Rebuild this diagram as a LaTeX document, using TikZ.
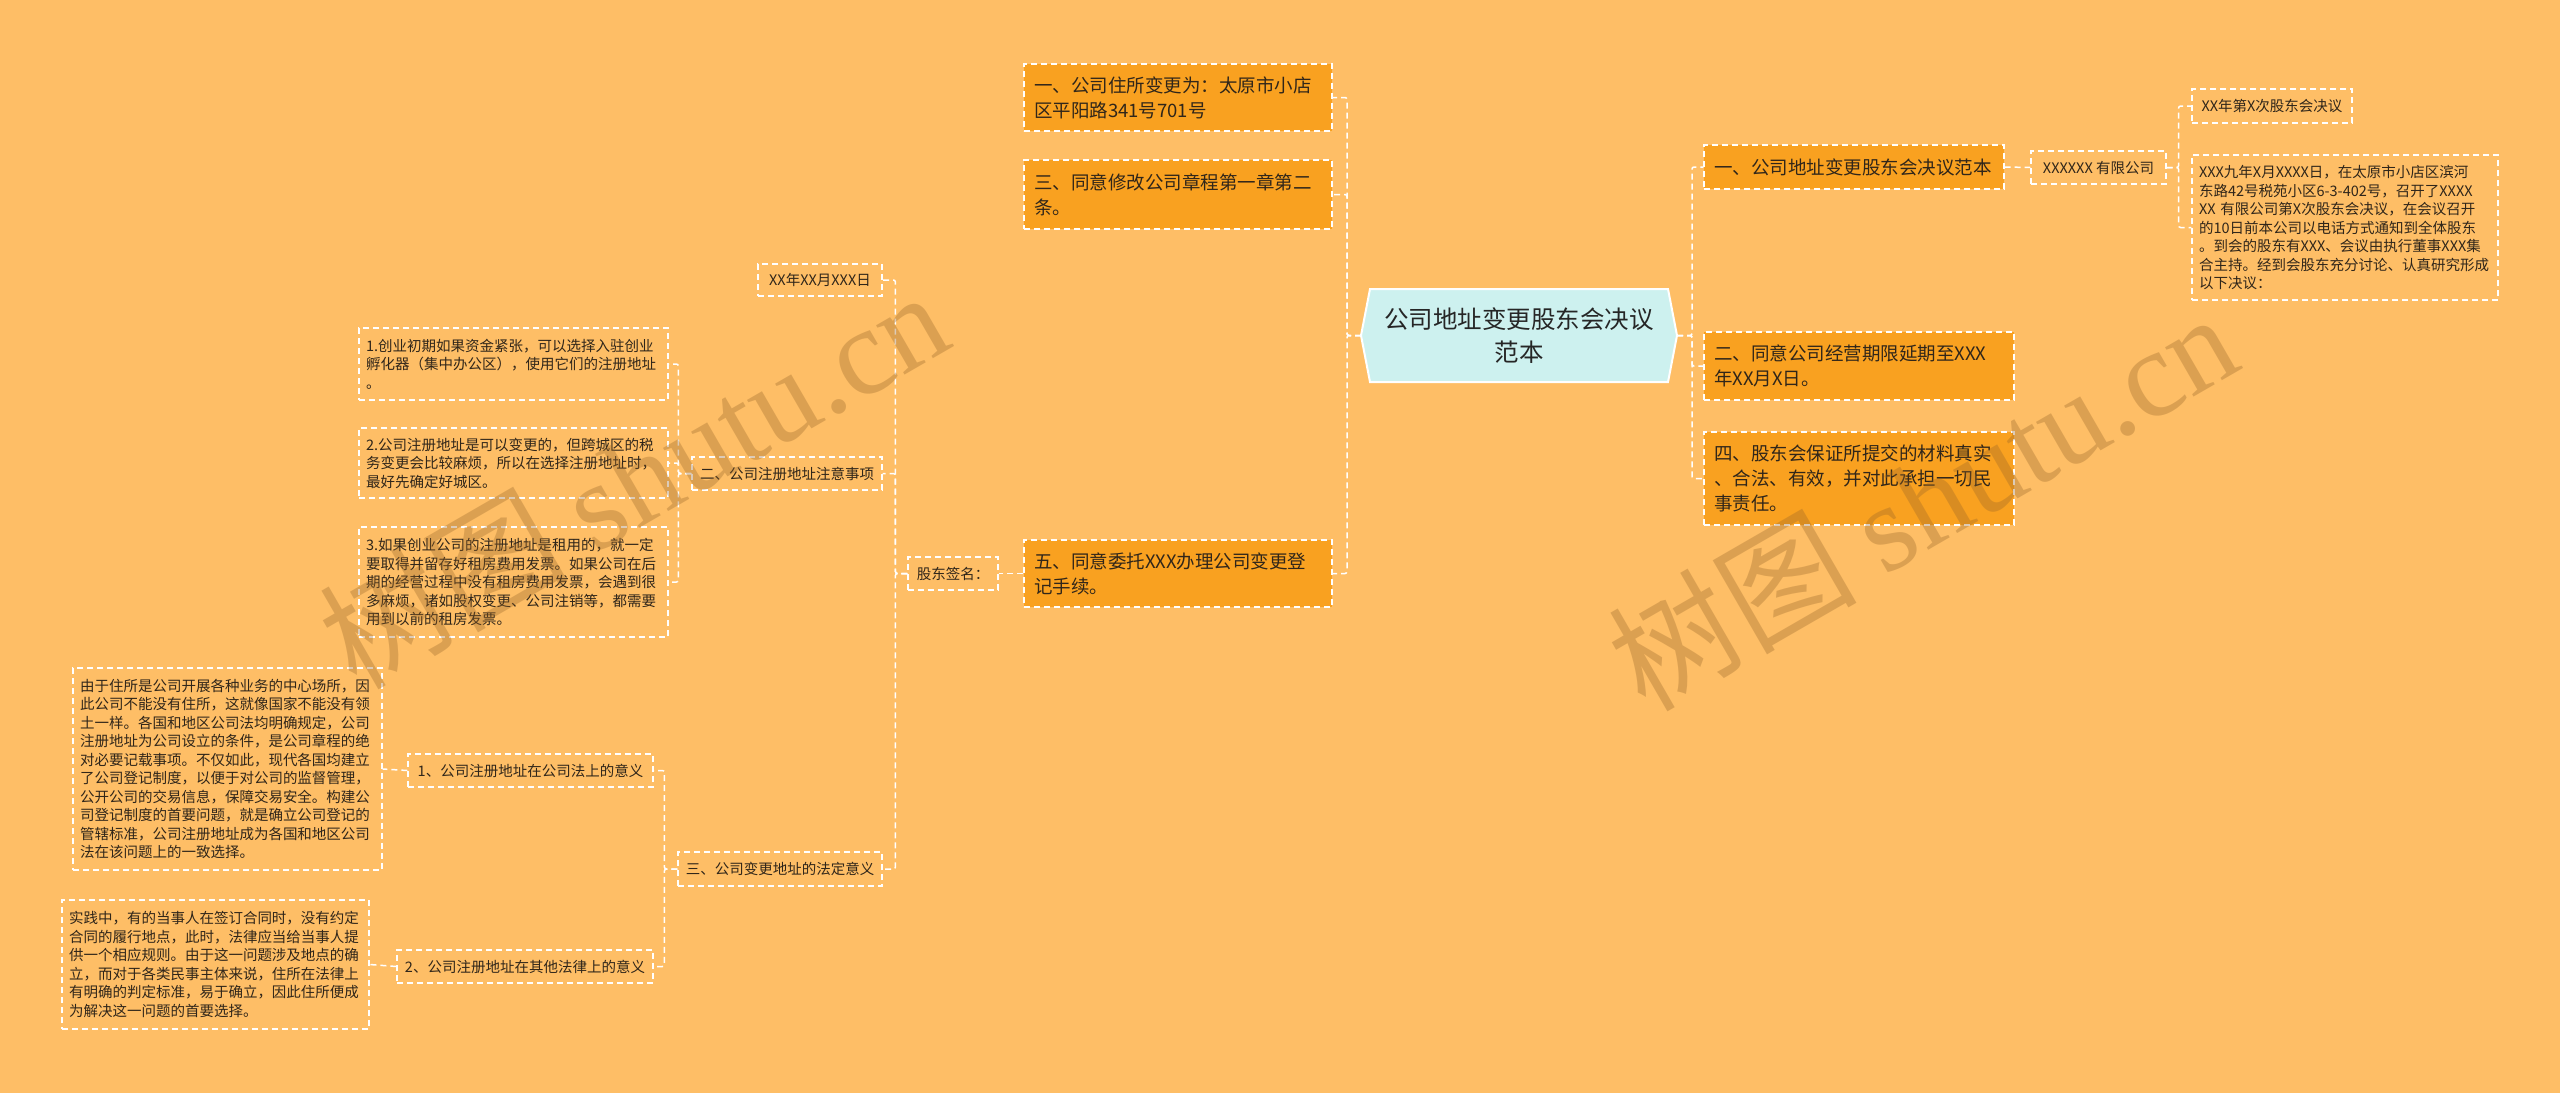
\documentclass[tikz,border=0pt]{standalone}
\usepackage{fontspec}
\setmainfont{Noto Sans CJK SC}
\newfontfamily\wmserif{Liberation Serif}
\newfontfamily\wmcjk{Noto Sans CJK SC}
\definecolor{bg}{RGB}{254,190,102}
\definecolor{orangebox}{RGB}{249,161,32}
\definecolor{cyanbox}{RGB}{205,241,239}
\definecolor{txt}{RGB}{48,38,26}
\definecolor{wm}{RGB}{150,100,40}
\begin{document}
\begin{tikzpicture}[x=1pt,y=-1pt,
  conn/.style={draw=white, line width=1.5pt, dash pattern=on 6pt off 4pt, rounded corners=2pt},
  obox/.style={fill=orangebox, draw=white, line width=1.2pt, dash pattern=on 6pt off 4pt,
    font=\fontsize{18.5}{25}\selectfont, text=txt, align=left, inner xsep=10pt, inner ysep=0pt},
  sbox/.style={draw=white, line width=1.2pt, dash pattern=on 6pt off 4pt,
    font=\fontsize{14.5}{18.5}\selectfont, text=txt, align=left, inner xsep=7pt, inner ysep=0pt},
  wmark/.style={rotate=30, text=wm, opacity=0.33, font=\fontsize{124}{124}\selectfont}
]
\fill[bg] (0,0) rectangle (2560,1093);
\useasboundingbox (0,0) rectangle (2560,1093);

% centre
\draw[fill=cyanbox, draw=white, line width=2pt]
  (1361,335.5) -- (1370,289) -- (1668,289) -- (1677,335.5) -- (1668,382) -- (1370,382) -- cycle;
\node[font=\fontsize{24.5}{33}\selectfont, text=black!85, align=center] (c) at (1519,335.5) {公司地址变更股东会决议\\范本};
\coordinate (cL) at (1361,335.5);
\coordinate (cR) at (1677,335.5);

% left orange
\node[obox, minimum width=308pt, minimum height=67pt, text width=288pt] (L1) at (1178,97.5) {一、公司住所变更为：太原市小店\\区平阳路341号701号};
\node[obox, minimum width=308pt, minimum height=69pt, text width=288pt] (L3) at (1178,194.5) {三、同意修改公司章程第一章第二\\条。};
\node[obox, minimum width=308pt, minimum height=67pt, text width=288pt] (L5) at (1178,573.5) {五、同意委托XXX办理公司变更登\\记手续。};

% right orange
\node[obox, minimum width=300pt, minimum height=44pt, text width=280pt] (R1) at (1854,167) {一、公司地址变更股东会决议范本};
\node[obox, minimum width=310pt, minimum height=68pt, text width=290pt] (R2) at (1859,366) {二、同意公司经营期限延期至XXX\\年XX月X日。};
\node[obox, minimum width=310pt, minimum height=93pt, text width=290pt] (R4) at (1859,478.5) {四、股东会保证所提交的材料真实\\、合法、有效，并对此承担一切民\\事责任。};

% right small
\node[sbox, minimum width=135pt, minimum height=33pt] (Rco) at (2098.5,167.5) {XXXXXX~有限公司};
\node[sbox, minimum width=160pt, minimum height=34pt] (Ra) at (2272,106) {XX年第X次股东会决议};
\node[sbox, minimum width=306pt, minimum height=145pt, text width=292pt] (Rb) at (2345,227.5) {XXX九年X月XXXX日，在太原市小店区滨河\\东路42号税苑小区6-3-402号，召开了XXXX\\XX~有限公司第X次股东会决议，在会议召开\\的10日前本公司以电话方式通知到全体股东\\。到会的股东有XXX、会议由执行董事XXX集\\合主持。经到会股东充分讨论、认真研究形成\\以下决议：};

% left small
\node[sbox, minimum width=90pt, minimum height=33pt] (sig) at (953,573.5) {股东签名：};
\node[sbox, minimum width=124pt, minimum height=32pt] (d) at (820,280) {XX年XX月XXX日};
\node[sbox, minimum width=190pt, minimum height=33pt] (n2) at (787,473.5) {二、公司注册地址注意事项};
\node[sbox, minimum width=204pt, minimum height=34pt] (n3) at (780,869) {三、公司变更地址的法定意义};

\node[sbox, minimum width=309pt, minimum height=72pt, text width=295pt] (t1) at (513.5,364) {1.创业初期如果资金紧张，可以选择入驻创业\\孵化器（集中办公区），使用它们的注册地址\\。};
\node[sbox, minimum width=309pt, minimum height=70pt, text width=295pt] (t2) at (513.5,463) {2.公司注册地址是可以变更的，但跨城区的税\\务变更会比较麻烦，所以在选择注册地址时，\\最好先确定好城区。};
\node[sbox, minimum width=309pt, minimum height=110pt, text width=295pt] (t3) at (513.5,582) {3.如果创业公司的注册地址是租用的，就一定\\要取得并留存好租房费用发票。如果公司在后\\期的经营过程中没有租房费用发票，会遇到很\\多麻烦，诸如股权变更、公司注销等，都需要\\用到以前的租房发票。};

\node[sbox, minimum width=245pt, minimum height=33pt] (m1) at (530.5,770.5) {1、公司注册地址在公司法上的意义};
\node[sbox, minimum width=256pt, minimum height=33pt] (m2) at (525,966.5) {2、公司注册地址在其他法律上的意义};

\node[sbox, minimum width=309pt, minimum height=202pt, text width=295pt] (p1) at (227.5,769) {由于住所是公司开展各种业务的中心场所，因\\此公司不能没有住所，这就像国家不能没有领\\土一样。各国和地区公司法均明确规定，公司\\注册地址为公司设立的条件，是公司章程的绝\\对必要记载事项。不仅如此，现代各国均建立\\了公司登记制度，以便于对公司的监督管理，\\公开公司的交易信息，保障交易安全。构建公\\司登记制度的首要问题，就是确立公司登记的\\管辖标准，公司注册地址成为各国和地区公司\\法在该问题上的一致选择。};
\node[sbox, minimum width=307pt, minimum height=129pt, text width=293pt] (p2) at (215.5,964.5) {实践中，有的当事人在签订合同时，没有约定\\合同的履行地点，此时，法律应当给当事人提\\供一个相应规则。由于这一问题涉及地点的确\\立，而对于各类民事主体来说，住所在法律上\\有明确的判定标准，易于确立，因此住所便成\\为解决这一问题的首要选择。};

% connectors
\draw[conn] (cL) -- ++(-14,0) |- (L1.east);
\draw[conn] (cL) -- ++(-14,0) |- (L3.east);
\draw[conn] (cL) -- ++(-14,0) |- (L5.east);
\draw[conn] (cR) -- ++(15,0) |- (R1.west);
\draw[conn] (cR) -- ++(15,0) |- (R2.west);
\draw[conn] (cR) -- ++(15,0) |- (R4.west);
\draw[conn] (R1.east) -- (Rco.west);
\draw[conn] (Rco.east) -- ++(12,0) |- (Ra.west);
\draw[conn] (Rco.east) -- ++(12,0) |- (Rb.west);
\draw[conn] (L5.west) -- (sig.east);
\draw[conn] (sig.west) -- ++(-12,0) |- (d.east);
\draw[conn] (sig.west) -- ++(-12,0) |- (n2.east);
\draw[conn] (sig.west) -- ++(-12,0) |- (n3.east);
\draw[conn] (n2.west) -- ++(-13,0) |- (t1.east);
\draw[conn] (n2.west) -- ++(-13,0) |- (t2.east);
\draw[conn] (n2.west) -- ++(-13,0) |- (t3.east);
\draw[conn] (n3.west) -- ++(-13,0) |- (m1.east);
\draw[conn] (n3.west) -- ++(-13,0) |- (m2.east);
\draw[conn] (m1.west) -- (p1.east);
\draw[conn] (m2.west) -- (p2.east);

% watermarks
\node[wmark] (wm1) at (633,478) {{\wmcjk 树图} {\wmserif shutu.cn}};
\node[wmark] (wm2) at (1922,500) {{\wmcjk 树图} {\wmserif shutu.cn}};
\end{tikzpicture}
\end{document}
